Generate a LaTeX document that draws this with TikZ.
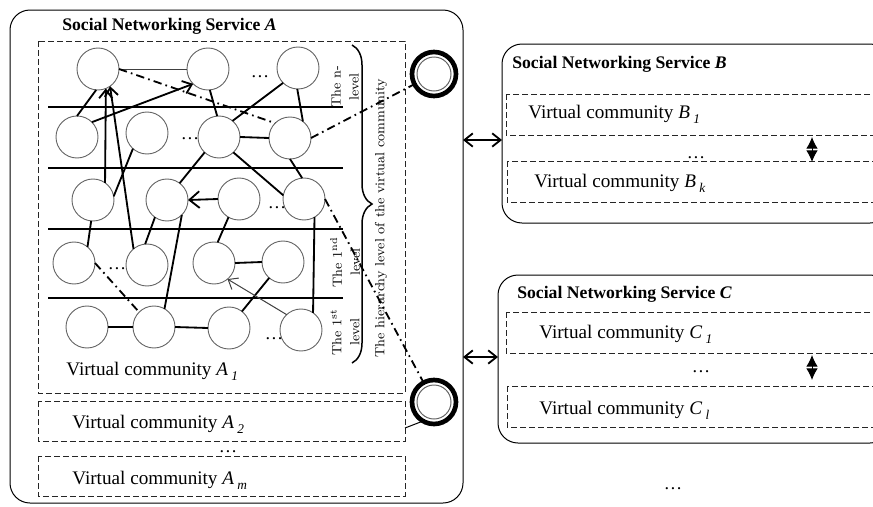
\documentclass[tikz,border=0pt]{standalone}
\usepackage{fontspec}
\newfontfamily\tnr{Liberation Serif}
\usetikzlibrary{arrows.meta,decorations.pathreplacing}
\newcommand\vcsub[2]{Virtual community \textit{#1}\,\raisebox{-0.6ex}{\fontsize{8}{9}\selectfont\textit{#2}}}
\begin{document}
\begin{tikzpicture}[x=0.6pt,y=-0.6pt,
  vn/.style={circle, draw=black!60, line width=0.55pt, minimum size=25.2pt, inner sep=0pt, outer sep=0pt},
  ed/.style={line width=1.1pt},
  thinln/.style={line width=0.6pt, draw=black!75},
  dd/.style={line width=1.1pt, dash pattern=on 5pt off 2.5pt on 1pt off 2.5pt},
  barb/.style={-{Straight Barb[length=5pt,width=8pt]}},
  sbox/.style={draw, rounded corners=12pt, line width=0.6pt},
  dbox/.style={draw=black!85, line width=0.5pt, dash pattern=on 3.6pt off 1.8pt},
  oc/.style={circle, draw, line width=2.8pt, minimum size=26.4pt, inner sep=0pt, outer sep=0pt},
  vc/.style={font=\fontsize{11.5}{13}\tnr, anchor=base west, inner sep=0pt},
  ttl/.style={font=\fontsize{10.6}{12}\tnr\bfseries, anchor=base west, inner sep=0pt},
  dots/.style={font=\fontsize{11}{13}\tnr, anchor=base, inner sep=0pt},
  lvl/.style={rotate=90, align=center, font=\fontsize{8}{10.8}\selectfont, inner sep=0pt},
  dblv/.style={line width=0.6pt, {Latex[length=7pt,width=7pt]}-{Latex[length=7pt,width=7pt]}}]
\useasboundingbox (0,0) rectangle (873,506);
\clip (0,0) rectangle (873,506);
% service boxes
\draw[sbox] (10,10) rectangle (463,503);
\draw[sbox] (502,44) rectangle (890,223);
\draw[sbox] (498,275) rectangle (890,443);
% community boxes
\draw[dbox] (38,41) rectangle (405,393);
\draw[dbox] (38,401) rectangle (405,441);
\draw[dbox] (38,456) rectangle (405,496);
\draw[dbox] (506,94) rectangle (890,135);
\draw[dbox] (507,161) rectangle (890,202);
\draw[dbox] (506,312) rectangle (890,353);
\draw[dbox] (507,386) rectangle (890,427);
% titles
\node[ttl] (tA) at (62,30) {Social Networking Service \textit{A}};
\node[ttl] (tB) at (512,68) {Social Networking Service \textit{B}};
\node[ttl] (tC) at (517,298) {Social Networking Service \textit{C}};
% community labels
\node[vc] (la1) at (66,375) {\vcsub{A}{1}};
\node[vc] (la2) at (72,428) {\vcsub{A}{2}};
\node[vc] (lam) at (72,484) {\vcsub{A}{m}};
\node[vc] (lb1) at (528,118) {\vcsub{B}{1}};
\node[vc] (lbk) at (534,187) {\vcsub{B}{k}};
\node[vc] (lc1) at (539,338) {\vcsub{C}{1}};
\node[vc] (lcl) at (539,414) {\vcsub{C}{l}};
% dots
\node[dots] (da) at (228,452) {\ldots};
\node[dots] (db) at (696,158) {\ldots};
\node[dots] (dc) at (701,372) {\ldots};
\node[dots] (dz) at (673,489) {\ldots};
\node[dots] (g1) at (260,77) {\ldots};
\node[dots] (g2) at (190,139) {\ldots};
\node[dots] (g3) at (277,208) {\ldots};
\node[dots] (g4) at (117,269) {\ldots};
\node[dots] (g5) at (274,339) {\ldots};
% level separators
\foreach \yy in {107,168,229,298} \draw[ed] (48,\yy) -- (343,\yy);
% nodes
\node[vn] (n11) at (98,69) {};
\node[vn] (n12) at (208,69) {};
\node[vn] (n13) at (298,68) {};
\node[vn] (n21) at (77,137) {};
\node[vn] (n22) at (147,133) {};
\node[vn] (n23) at (219,137) {};
\node[vn] (n24) at (290,138) {};
\node[vn] (n31) at (93,200) {};
\node[vn] (n32) at (167,200) {};
\node[vn] (n33) at (239,199) {};
\node[vn] (n34) at (304,199) {};
\node[vn] (n41) at (74,263) {};
\node[vn] (n42) at (147,265) {};
\node[vn] (n43) at (214,263) {};
\node[vn] (n44) at (283,262) {};
\node[vn] (n51) at (87,327) {};
\node[vn] (n52) at (154,327) {};
\node[vn] (n53) at (229,328) {};
\node[vn] (n54) at (301,330) {};
% double circles
\node[oc] (o1) at (434,74) {};
\node[oc] (o2) at (434,402) {};
\draw[black!60, line width=0.6pt] (o1.center) circle (10.2pt);
\draw[black!60, line width=0.6pt] (o2.center) circle (10.2pt);
% edges
\draw[thinln] (n11.east) -- (n12.west);
\draw[dd] (n11.east) -- (n24.north west);
\draw[ed, barb] (n21.north east) -- (n12.south west);
\draw[ed] (n21.north) -- (n11.265);
\draw[ed, barb] (n31.55) -- (n11.292);
\draw[ed, barb] (n42.130) -- (n11.305);
\draw[ed] (n22.228) -- (n31.10);
\draw[ed] (n31.265) -- (n41.50);
\draw[ed] (n42.95) -- (n32.235);
\draw[ed] (n32.315) -- (n52.60);
\draw[ed] (n32.53) -- (n23.227);
\draw[ed, -{Straight Barb[length=6pt,width=10pt]}] (n33.west) -- (n32.east);
\draw[dd] (n41.east) -- (n52.135);
\draw[ed] (n51.east) -- (n52.west);
\draw[ed] (n52.east) -- (n53.west);
\draw[ed] (n53.52) -- (n44.229);
\draw[ed] (n43.east) -- (n44.west);
\draw[thinln, -{Straight Barb[length=5pt,width=8pt]}] (n54.133) -- (n43.310);
\draw[ed] (n43.80) -- (n33.240);
\draw[ed] (n54.55) -- (n34.300);
\draw[ed] (n23.313) -- (n34.170);
\draw[ed] (n23.east) -- (n24.west);
\draw[ed] (n23.50) -- (n13.225);
\draw[ed] (n24.52) -- (n13.268);
\draw[ed] (n12.275) -- (n23.95);
\draw[ed] (n24.south) -- (n34.95);
\draw[dd] (n24.east) -- (o1);
\draw[dd] (n34.east) -- (o2);
\coordinate (a2r) at (405,428);
\draw[thinln, draw=black] (a2r) -- (o2.240);
% brace and level labels
\draw[line width=0.9pt, decorate, decoration={brace, amplitude=12pt}] (352,45) -- (352,363);
\node[lvl] (lvn) at (345,87) {The n-\\level};
\node[lvl] (lv2) at (345,262) {The 1\textsuperscript{nd}\\level};
\node[lvl] (lv1) at (345,332) {The 1\textsuperscript{st}\\level};
\node[lvl] (hier) at (381,218) {The hierarchy level of the virtual community};
% links between services
\coordinate (abL) at (463,140); \coordinate (abR) at (502,140);
\coordinate (acL) at (463,357); \coordinate (acR) at (498,357);
\draw[ed, {Straight Barb[length=5pt,width=8pt]}-{Straight Barb[length=5pt,width=8pt]}] (abL) -- (abR);
\draw[ed, {Straight Barb[length=5pt,width=8pt]}-{Straight Barb[length=5pt,width=8pt]}] (acL) -- (acR);
% double arrows inside B and C
\coordinate (bu) at (812,137); \coordinate (bd) at (812,162);
\coordinate (cu) at (812,355); \coordinate (cd) at (812,380);
\draw[dblv] (bu) -- (bd);
\draw[dblv] (cu) -- (cd);
\end{tikzpicture}
\end{document}
